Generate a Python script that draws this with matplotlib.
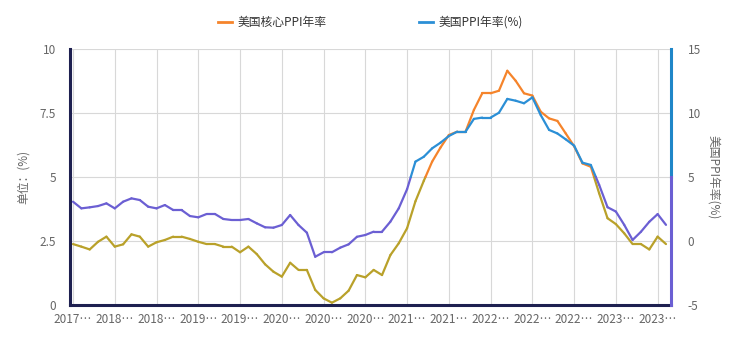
import matplotlib
matplotlib.use("Agg")
import matplotlib.pyplot as plt
import numpy as np
from matplotlib.collections import LineCollection

plt.rcParams['font.family'] = ['Noto Sans CJK SC', 'DejaVu Sans']

# ---- data ----
x_tick_labels = ["2017…", "2018…", "2018…", "2019…", "2019…", "2020…", "2020…", "2020…",
                 "2021…", "2021…", "2022…", "2022…", "2022…", "2023…", "2023…"]

core_ppi = [2.38, 2.28, 2.17, 2.47, 2.67, 2.28, 2.37, 2.76, 2.67, 2.28,
            2.45, 2.54, 2.67, 2.67, 2.58, 2.47, 2.38, 2.38, 2.28, 2.28,
            2.06, 2.28, 1.99, 1.59, 1.30, 1.11, 1.65, 1.37, 1.37, 0.59,
            0.26, 0.09, 0.26, 0.56, 1.17, 1.08, 1.37, 1.17, 1.95, 2.41,
            3.00, 4.05, 4.85, 5.60, 6.15, 6.64, 6.77, 6.77, 7.62, 8.27,
            8.27, 8.37, 9.15, 8.76, 8.27, 8.18, 7.55, 7.29, 7.19, 6.70,
            6.20, 5.53, 5.40, 4.36, 3.39, 3.16, 2.80, 2.38, 2.38, 2.17,
            2.67, 2.38]

ppi = [3.07, 2.55, 2.63, 2.73, 2.94, 2.55, 3.07, 3.33, 3.20, 2.68,
       2.55, 2.81, 2.42, 2.42, 1.95, 1.85, 2.11, 2.11, 1.72, 1.64,
       1.64, 1.72, 1.38, 1.07, 1.04, 1.25, 2.03, 1.25, 0.65, -1.23,
       -0.88, -0.88, -0.52, -0.26, 0.33, 0.47, 0.73, 0.73, 1.51, 2.55,
       4.05, 6.20, 6.58, 7.24, 7.68, 8.20, 8.54, 8.54, 9.54, 9.64,
       9.64, 10.02, 11.10, 10.96, 10.76, 11.22, 9.84, 8.68, 8.40, 7.94,
       7.45, 6.12, 5.94, 4.38, 2.64, 2.30, 1.26, 0.08, 0.72, 1.50,
       2.10, 1.26]

left_ticks = [0, 2.5, 5, 7.5, 10]
left_tick_labels = ["0", "2.5", "5", "7.5", "10"]
right_ticks = [-5, 0, 5, 10, 15]
right_tick_labels = ["-5", "0", "5", "10", "15"]

# ---- styles ----
C_ORANGE = "#f5842b"
C_OLIVE = "#b9a12a"
C_BLUE = "#2b8fd6"
C_PURPLE = "#6b5fd3"
C_NAVY = "#1e2050"
C_GRID = "#d8d8d8"
C_TEXT = "#666666"

W, H = 737, 341
fig = plt.figure(figsize=(W / 100, H / 100), dpi=100)
L, R, T, B = 70, 671, 49, 305
ax = fig.add_axes([L / W, (H - B) / H, (R - L) / W, (B - T) / H])
ax2 = ax.twinx()

x = np.arange(len(core_ppi))


def split_line(xs, ys, thr, c_hi, c_lo):
    segs, cols = [], []
    for i in range(len(xs) - 1):
        x0, y0, x1, y1 = xs[i], ys[i], xs[i + 1], ys[i + 1]
        if (y0 - thr) * (y1 - thr) < 0:
            t = (thr - y0) / (y1 - y0)
            xm = x0 + t * (x1 - x0)
            segs.append([(x0, y0), (xm, thr)])
            cols.append(c_hi if y0 > thr else c_lo)
            segs.append([(xm, thr), (x1, y1)])
            cols.append(c_hi if y1 > thr else c_lo)
        else:
            segs.append([(x0, y0), (x1, y1)])
            cols.append(c_hi if (y0 + y1) / 2 > thr else c_lo)
    return segs, cols


segs, cols = split_line(x, core_ppi, 5.0, C_ORANGE, C_OLIVE)
ax.add_collection(LineCollection(segs, colors=cols, linewidths=1.6,
                                 capstyle='round', joinstyle='round', zorder=3))
segs, cols = split_line(x, ppi, 5.0, C_BLUE, C_PURPLE)
ax2.add_collection(LineCollection(segs, colors=cols, linewidths=1.6,
                                  capstyle='round', joinstyle='round', zorder=3))

xlim = (-0.36, 71.6)
ax.set_xlim(*xlim)
ax.set_ylim(0, 10)
ax2.set_ylim(-5, 15)

ax.set_yticks(left_ticks)
ax.set_yticklabels(left_tick_labels)
ax2.set_yticks(right_ticks)
ax2.set_yticklabels(right_tick_labels)
ax.set_xticks(np.arange(0, len(core_ppi), 5))
ax.set_xticklabels(x_tick_labels)

ax.grid(True, color=C_GRID, linewidth=0.8)
ax.set_axisbelow(True)
ax2.grid(False)

for a in (ax, ax2):
    a.tick_params(length=0, labelsize=8.5, colors=C_TEXT)
    for s in a.spines.values():
        s.set_visible(False)
ax.tick_params(axis='y', pad=10)
ax2.tick_params(axis='y', pad=12)
ax.tick_params(axis='x', pad=6)

# axis lines
ax.plot([xlim[0], xlim[0]], [0, 10], color=C_NAVY, lw=2.2, clip_on=False, zorder=5)
ax.plot([xlim[0], xlim[1]], [0, 0], color=C_NAVY, lw=2.2, clip_on=False, zorder=5)
ax2.plot([xlim[1], xlim[1]], [5, 15], color="#1f86c8", lw=2.2, clip_on=False, zorder=5)
ax2.plot([xlim[1], xlim[1]], [-5, 5], color=C_PURPLE, lw=2.2, clip_on=False, zorder=5)

ax.set_ylabel("单位：(%)", color=C_TEXT, fontsize=8.5, labelpad=7)
ax2.set_ylabel("美国PPI年率(%)", color=C_TEXT, fontsize=8.5, rotation=-90, labelpad=14)

# legend
lx1, lx2, ly = 218, 419, 22
fig.add_artist(plt.Line2D([lx1 / W, (lx1 + 14) / W], [1 - ly / H] * 2, color=C_ORANGE, lw=2))
fig.text((lx1 + 20) / W, 1 - ly / H, "美国核心PPI年率", fontsize=8.5, color="#333333", va='center')
fig.add_artist(plt.Line2D([lx2 / W, (lx2 + 14) / W], [1 - ly / H] * 2, color=C_BLUE, lw=2))
fig.text((lx2 + 20) / W, 1 - ly / H, "美国PPI年率(%)", fontsize=8.5, color="#333333", va='center')

fig.savefig("out.png", dpi=100)
